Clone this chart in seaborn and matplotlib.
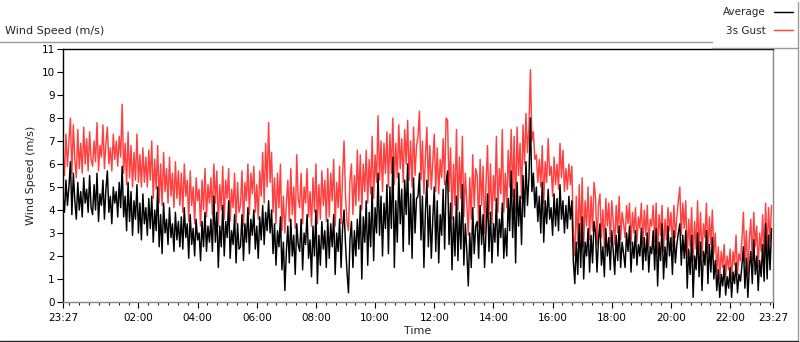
import numpy as np
import pandas as pd
import matplotlib
matplotlib.use("Agg")
import matplotlib.pyplot as plt
import matplotlib.dates as mdates
import seaborn as sns
from matplotlib.lines import Line2D

# wind speed readings, one every 3 minutes from 23:27 (m/s)
# one row = one hour
avg = [4.6, 3.9, 5.3, 4.2, 5.0, 6.1, 3.8, 5.6, 4.4, 3.6, 5.2, 4.0, 4.8, 3.7, 5.4, 4.3, 4.9, 3.9, 5.5, 4.1,
       3.8, 5.1, 4.0, 5.6, 3.5, 4.7, 4.2, 5.3, 3.6, 4.9, 5.7, 3.9, 4.6, 3.4, 5.0, 4.3, 4.8, 3.7, 5.2, 4.1,
       5.9, 3.7, 4.6, 3.1, 5.2, 3.5, 4.8, 2.9, 4.4, 3.6, 5.1, 3.0, 4.3, 2.7, 4.7, 3.4, 4.1, 2.9, 4.5, 3.2,
       4.6, 2.6, 4.0, 3.1, 5.0, 2.4, 3.8, 2.1, 4.3, 3.0, 3.6, 2.5, 4.1, 2.8, 3.4, 2.2, 3.9, 2.7, 3.5, 2.4,
       3.7, 2.3, 4.1, 2.8, 3.4, 1.9, 3.8, 2.5, 3.2, 2.0, 3.6, 2.7, 3.0, 1.8, 3.5, 2.4, 3.9, 2.2, 3.3, 2.6,
       3.6, 2.2, 4.6, 2.6, 3.9, 1.5, 3.3, 2.4, 4.2, 2.0, 3.5, 2.8, 4.4, 1.9, 3.1, 2.5, 3.8, 1.7, 3.4, 2.3,
       2.4, 3.8, 1.8, 3.4, 2.6, 4.1, 2.1, 3.6, 2.9, 4.0, 2.3, 3.3, 1.9, 3.7, 2.7, 4.2, 2.5, 3.9, 3.1, 4.4,
       3.0, 4.0, 2.1, 3.4, 1.6, 3.1, 2.4, 3.7, 1.4, 2.6, 0.5, 2.2, 3.3, 1.7, 3.6, 2.0, 2.9, 1.2, 3.4, 2.5,
       2.2, 3.6, 1.4, 3.0, 2.5, 3.8, 1.9, 2.7, 1.1, 3.3, 2.0, 4.0, 0.8, 2.9, 1.6, 3.5, 2.3, 3.1, 1.5, 3.6,
       1.9, 3.4, 2.4, 3.8, 1.2, 3.0, 2.2, 3.6, 1.5, 3.2, 4.0, 2.5, 1.3, 0.4, 2.7, 3.5, 1.5, 3.1, 2.0, 3.6,
       2.3, 4.2, 1.0, 3.7, 2.6, 4.4, 1.6, 3.9, 2.4, 5.0, 1.8, 4.1, 3.0, 5.6, 2.9, 4.6, 2.0, 4.3, 3.2, 5.1,
       2.1, 5.0, 3.2, 6.3, 1.5, 4.4, 2.6, 5.6, 3.4, 4.9, 2.2, 5.3, 3.8, 6.0, 2.5, 4.7, 1.9, 5.4, 3.0, 4.5,
       4.6, 5.6, 2.7, 4.6, 1.5, 3.9, 5.3, 2.4, 4.2, 1.9, 3.6, 5.0, 2.2, 4.4, 1.7, 3.8, 2.9, 4.9, 2.3, 5.2,
       5.7, 2.5, 4.3, 1.4, 3.7, 2.0, 4.6, 1.8, 3.9, 2.3, 5.1, 1.6, 3.4, 2.2, 0.7, 3.0, 1.5, 4.1, 2.1, 3.3,
       3.5, 1.9, 4.2, 2.5, 3.8, 1.5, 3.1, 4.7, 2.2, 3.9, 1.7, 3.4, 2.6, 4.5, 2.0, 3.6, 2.8, 4.3, 1.9, 3.2,
       2.0, 4.5, 3.1, 5.7, 2.8, 4.9, 1.7, 5.2, 3.3, 4.6, 2.5, 5.5, 3.7, 6.1, 4.2, 5.4, 8.0, 4.8, 5.6, 4.1,
       5.0, 3.5, 4.6, 3.0, 5.2, 2.6, 4.4, 3.4, 4.9, 3.6, 4.1, 2.9, 4.7, 3.3, 4.5, 3.1, 5.1, 3.6, 4.4, 3.0,
       4.2, 3.2, 4.6, 3.6, 4.4, 1.8, 0.8, 2.6, 1.2, 3.4, 1.5, 3.7, 1.0, 2.6, 2.0, 3.2, 1.3, 2.9, 1.7, 3.5,
       3.0, 1.3, 2.7, 3.4, 1.6, 2.4, 1.1, 3.2, 2.0, 2.8, 1.4, 3.1, 2.2, 1.2, 2.9, 1.8, 3.3, 1.5, 2.6, 2.1,
       1.5, 3.0, 2.2, 3.3, 1.3, 2.6, 1.9, 3.1, 1.6, 2.5, 2.0, 3.2, 1.4, 2.8, 1.8, 3.0, 1.3, 2.4, 2.1, 3.1,
       1.4, 3.2, 0.7, 2.6, 1.8, 3.4, 1.0, 2.4, 1.5, 3.3, 2.0, 2.8, 1.2, 3.1, 1.7, 2.5, 3.0, 3.4, 1.6, 2.9,
       1.9, 3.1, 0.6, 2.3, 1.2, 2.9, 0.2, 2.0, 1.4, 3.0, 1.1, 2.6, 0.5, 2.2, 1.6, 3.1, 0.8, 2.5, 1.3, 2.8,
       1.0, 1.8, 0.5, 1.4, 0.2, 1.2, 0.7, 1.6, 0.3, 1.1, 0.6, 1.5, 0.2, 1.3, 0.8, 1.7, 0.4, 1.2, 0.9, 1.6,
       2.4, 0.6, 1.9, 0.2, 1.5, 2.2, 0.8, 2.7, 1.2, 2.0, 0.5, 1.8, 1.1, 2.5, 0.9, 3.4, 1.0, 2.9, 1.4, 3.2]

gust = [6.4, 5.5, 7.3, 5.9, 7.0, 8.0, 5.6, 7.7, 6.2, 5.4, 7.5, 5.8, 6.9, 5.6, 7.6, 6.0, 7.1, 5.7, 7.4, 6.2,
        5.9, 7.0, 6.1, 7.8, 5.7, 6.8, 6.3, 7.7, 5.8, 6.9, 7.6, 6.0, 6.7, 5.7, 7.3, 6.2, 7.0, 5.9, 7.2, 6.3,
        8.6, 5.6, 6.9, 5.1, 7.4, 5.4, 6.8, 5.0, 6.5, 5.3, 7.3, 5.2, 6.4, 5.0, 6.7, 5.2, 6.3, 5.0, 6.6, 5.3,
        7.0, 4.5, 6.2, 4.9, 6.8, 4.3, 6.0, 4.2, 6.5, 4.8, 5.8, 4.3, 6.3, 4.6, 5.6, 4.1, 6.1, 4.5, 5.7, 4.2,
        5.6, 3.9, 6.0, 4.6, 5.3, 3.5, 5.7, 4.2, 5.0, 3.4, 5.4, 4.4, 4.9, 3.3, 5.3, 4.0, 5.8, 3.7, 5.1, 4.3,
        5.4, 3.8, 6.0, 4.3, 5.7, 3.3, 5.1, 4.0, 5.9, 3.6, 5.3, 4.5, 5.8, 3.5, 4.9, 4.1, 5.6, 3.4, 5.2, 3.9,
        4.2, 5.7, 3.3, 5.2, 4.4, 6.0, 3.8, 5.6, 4.7, 5.9, 3.9, 5.1, 3.6, 5.7, 4.6, 6.5, 4.3, 6.9, 5.0, 7.8,
        5.2, 6.5, 3.9, 5.4, 3.4, 5.6, 4.1, 6.0, 3.1, 4.6, 3.0, 4.3, 5.3, 3.5, 5.8, 3.8, 5.0, 3.2, 6.4, 4.5,
        4.1, 5.6, 3.4, 5.0, 4.3, 5.8, 3.7, 4.8, 3.3, 5.4, 3.9, 6.0, 3.4, 5.1, 3.6, 5.7, 4.2, 5.3, 3.5, 5.8,
        3.7, 5.6, 4.4, 6.2, 3.3, 5.2, 4.1, 5.9, 3.4, 5.5, 7.0, 4.6, 3.5, 3.1, 5.3, 6.0, 3.8, 5.5, 4.2, 6.6,
        4.4, 6.4, 4.0, 6.0, 4.8, 6.6, 4.3, 6.2, 4.7, 7.2, 4.5, 6.4, 5.2, 8.1, 5.3, 7.0, 4.8, 6.9, 5.6, 7.4,
        5.0, 7.3, 5.6, 8.0, 5.1, 6.9, 5.4, 7.7, 5.8, 7.1, 5.2, 7.5, 6.0, 7.9, 5.3, 7.0, 5.0, 7.6, 5.5, 6.8,
        7.2, 8.3, 5.3, 7.0, 4.7, 6.3, 7.6, 5.0, 6.8, 4.9, 6.1, 7.3, 4.8, 6.7, 4.7, 6.2, 5.4, 7.1, 5.1, 8.0,
        7.9, 4.8, 6.7, 3.6, 6.0, 4.2, 7.5, 4.0, 6.3, 4.5, 7.2, 3.7, 5.6, 4.3, 2.9, 5.4, 3.6, 6.4, 4.1, 5.8,
        5.5, 3.3, 6.2, 4.2, 5.9, 3.0, 5.2, 6.8, 3.8, 6.0, 3.4, 5.5, 4.4, 7.2, 3.9, 5.8, 4.7, 7.5, 3.9, 5.6,
        4.1, 6.6, 5.0, 7.5, 4.6, 7.2, 3.9, 7.6, 5.5, 6.9, 4.5, 7.7, 6.0, 8.2, 6.5, 7.6, 10.1, 7.0, 7.4, 6.2,
        6.4, 5.2, 6.2, 5.0, 6.8, 4.3, 6.1, 5.2, 7.1, 5.5, 5.9, 4.6, 6.3, 5.1, 6.0, 4.9, 6.9, 5.4, 6.6, 4.8,
        5.8, 4.9, 6.0, 5.1, 5.9, 3.0, 2.0, 4.6, 2.5, 5.1, 2.8, 5.4, 2.4, 4.4, 3.3, 5.0, 2.7, 4.6, 3.1, 5.2,
        4.6, 2.5, 4.2, 4.7, 2.8, 4.0, 2.4, 4.5, 3.3, 4.3, 2.6, 4.4, 3.5, 2.5, 4.2, 3.0, 4.6, 2.7, 3.9, 3.4,
        2.8, 4.2, 3.4, 4.3, 2.5, 3.9, 3.0, 4.1, 2.6, 3.7, 3.2, 4.3, 2.5, 4.0, 2.9, 4.2, 2.4, 3.6, 3.3, 4.2,
        2.6, 4.3, 2.1, 3.8, 2.9, 4.2, 2.2, 3.6, 2.7, 4.1, 3.1, 3.9, 2.4, 4.2, 2.8, 3.7, 4.4, 5.0, 2.9, 4.3,
        3.2, 4.4, 1.9, 3.6, 2.4, 4.1, 1.8, 3.5, 2.3, 4.4, 2.2, 3.9, 2.0, 3.4, 2.8, 4.3, 2.1, 3.7, 2.5, 4.0,
        2.1, 3.0, 1.3, 2.4, 1.0, 2.2, 1.5, 2.5, 1.1, 2.0, 1.4, 2.3, 1.0, 2.2, 1.6, 2.9, 1.2, 2.1, 1.8, 2.7,
        3.9, 1.7, 3.1, 1.2, 2.7, 3.6, 1.8, 3.9, 2.4, 3.3, 1.5, 3.0, 2.2, 3.8, 2.0, 4.3, 2.2, 4.1, 2.6, 4.2]

start = pd.Timestamp("2015-06-01 23:27")
end = start + pd.Timedelta(hours=24)
times = pd.date_range(start, periods=len(avg), freq="3min")

tick_times = [start] + [pd.Timestamp("2015-06-02 %02d:00" % h) for h in range(2, 23, 2)] + [end]
tick_labels = ["23:27", "02:00", "04:00", "06:00", "08:00", "10:00", "12:00",
               "14:00", "16:00", "18:00", "20:00", "22:00", "23:27"]

df = pd.DataFrame({"Time": times, "Average": avg, "3s Gust": gust})

sns.set_style("white")
plt.rcParams['font.family'] = ['DejaVu Sans']

fig = plt.figure(figsize=(8, 3.42), dpi=100)
W, H = 800, 342
ax = fig.add_axes([63 / W, 40 / H, 710 / W, 253 / H])

sns.lineplot(data=df, x="Time", y="3s Gust", color="#ff4040", lw=1.05, ax=ax, label="3s Gust")
sns.lineplot(data=df, x="Time", y="Average", color="black", lw=1.05, ax=ax, label="Average")

ax.set_xlim(start, end)
ax.set_ylim(0, 11)
ax.set_yticks(range(12))
ax.set_xticks(tick_times)
ax.set_xticklabels(tick_labels)
ax.xaxis.set_minor_locator(mdates.MinuteLocator(byminute=[0, 20, 40]))
ax.tick_params(axis="both", which="major", direction="out", length=4, width=0.8,
               labelsize=7.5, colors="black", pad=2, left=True, bottom=True)
ax.tick_params(axis="x", which="major", pad=4)
ax.tick_params(axis="x", which="minor", direction="out", length=2.5, width=0.8, bottom=True)

ax.set_xlabel("Time", fontsize=8, labelpad=2)
ax.set_ylabel("Wind Speed (m/s)", fontsize=8, labelpad=4)

for side, col in [("top", "black"), ("left", "black"), ("bottom", "#888888"), ("right", "#888888")]:
    ax.spines[side].set_visible(True)
    ax.spines[side].set_color(col)
    ax.spines[side].set_linewidth(1.0)

# chart frame and caption
fig.text(5 / W, 1 - 31 / H, "Wind Speed (m/s)", fontsize=8, va="center", ha="left")
fig.add_artist(Line2D([0, 712 / W], [1 - 42 / H, 1 - 42 / H], color="#999999", lw=1))
fig.add_artist(Line2D([798 / W, 798 / W], [0, 1 - 2 / H], color="#999999", lw=1))
fig.add_artist(Line2D([712 / W, 798 / W], [1 - 48 / H, 1 - 48 / H], color="#999999", lw=1))
fig.add_artist(Line2D([0, 798 / W], [1 / H, 1 / H], color="#222222", lw=1))

handles, labels = ax.get_legend_handles_labels()
order = [labels.index("Average"), labels.index("3s Gust")]
ax.legend([handles[i] for i in order], [labels[i] for i in order],
          loc="upper right", bbox_to_anchor=(797 / W, 1 - 3 / H), bbox_transform=fig.transFigure,
          markerfirst=False, fontsize=7.5, frameon=False, handlelength=1.8,
          labelspacing=0.8, borderaxespad=0)

fig.savefig("out.png", dpi=100)
